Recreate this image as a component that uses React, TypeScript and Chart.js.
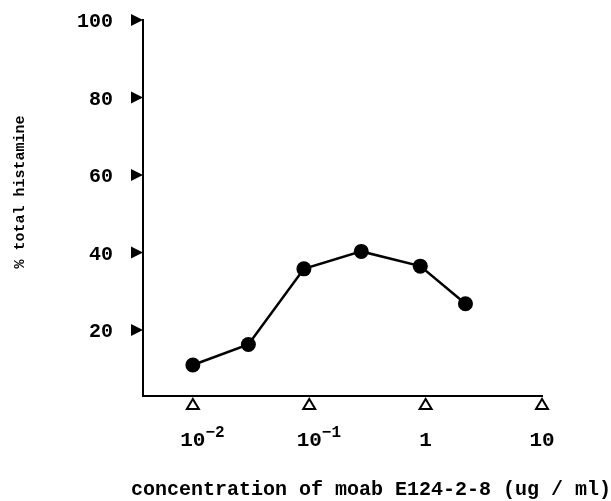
import React, { useEffect, useRef } from "react";
import { Chart, registerables } from "chart.js";

Chart.register(...registerables);

// Data
const concentrations = [0.01, 0.03, 0.09, 0.28, 0.9, 2.2];
const histamine = [11, 16.3, 35.8, 40.3, 36.5, 26.8];

const yTicks = [20, 40, 60, 80, 100];
const xTicks = [0.01, 0.1, 1, 10];
const xTickBase = ["10", "10", "1", "10"];
const xTickExp = ["\u22122", "\u22121", "", ""];

const xTitle = "concentration of moab E124-2-8 (ug / ml)";
const yTitle = "% total histamine";

const FONT = "'Liberation Mono', 'DejaVu Sans Mono', monospace";

const decorPlugin = {
  id: "decor",
  afterDraw(chart: any) {
    const ctx = chart.ctx;
    const xs = chart.scales.x;
    const ys = chart.scales.y;
    const area = chart.chartArea;
    ctx.save();
    ctx.fillStyle = "#000";
    ctx.strokeStyle = "#000";

    // y ticks: filled triangles pointing right + labels
    ctx.font = `bold 20px ${FONT}`;
    ctx.textAlign = "right";
    ctx.textBaseline = "middle";
    yTicks.forEach((v) => {
      const py = ys.getPixelForValue(v);
      const ax = area.left;
      ctx.beginPath();
      ctx.moveTo(ax, py);
      ctx.lineTo(ax - 12, py - 6);
      ctx.lineTo(ax - 12, py + 6);
      ctx.closePath();
      ctx.fill();
      ctx.fillText(String(v), ax - 30, py + 2);
    });

    // x ticks: hollow triangles pointing up + labels
    ctx.lineWidth = 2;
    xTicks.forEach((v, i) => {
      const px = xs.getPixelForValue(v);
      const ay = area.bottom + 3;
      ctx.beginPath();
      ctx.moveTo(px, ay);
      ctx.lineTo(px - 6, ay + 10);
      ctx.lineTo(px + 6, ay + 10);
      ctx.closePath();
      ctx.stroke();

      ctx.font = `bold 21px ${FONT}`;
      ctx.textAlign = "center";
      ctx.textBaseline = "alphabetic";
      const base = xTickBase[i];
      ctx.fillText(base, px, area.bottom + 50);
      if (xTickExp[i]) {
        const w = ctx.measureText(base).width;
        ctx.font = `bold 16px ${FONT}`;
        ctx.textAlign = "left";
        ctx.fillText(xTickExp[i], px + w / 2, area.bottom + 41);
      }
    });

    // x title
    ctx.font = `bold 20px ${FONT}`;
    ctx.textAlign = "center";
    ctx.textBaseline = "alphabetic";
    ctx.fillText(xTitle, 371, 495);

    // y title
    ctx.save();
    ctx.translate(20, 192);
    ctx.rotate(-Math.PI / 2);
    ctx.font = `bold 15px ${FONT}`;
    ctx.textAlign = "center";
    ctx.textBaseline = "middle";
    ctx.fillText(yTitle, 0, 0);
    ctx.restore();

    ctx.restore();
  },
};

export default function App() {
  const ref = useRef<HTMLCanvasElement>(null);
  useEffect(() => {
    if (!ref.current) return;
    const chart = new Chart(ref.current, {
      type: "line",
      data: {
        datasets: [
          {
            data: concentrations.map((c, i) => ({ x: c, y: histamine[i] })),
            borderColor: "#000",
            backgroundColor: "#000",
            borderWidth: 2.5,
            pointRadius: 7.5,
            pointBackgroundColor: "#000",
            pointBorderColor: "#000",
            pointBorderWidth: 0,
            tension: 0,
          },
        ],
      },
      options: {
        responsive: false,
        animation: false,
        layout: { autoPadding: false, padding: { left: 143, right: 69, top: 20, bottom: 105 } },
        plugins: { legend: { display: false }, tooltip: { enabled: false } },
        scales: {
          x: {
            type: "logarithmic",
            min: 0.00373,
            max: 10,
            ticks: { display: false },
            grid: { display: false, drawTicks: false },
            border: { display: true, color: "#000", width: 2 },
          },
          y: {
            type: "linear",
            min: 3,
            max: 100,
            ticks: { display: false },
            grid: { display: false, drawTicks: false },
            border: { display: true, color: "#000", width: 2 },
          },
        },
      },
      plugins: [decorPlugin],
    });
    return () => chart.destroy();
  }, []);
  return (
    <div style={{ position: "absolute", left: 0, top: 0, width: 611, height: 501, background: "#fff" }}>
      <canvas ref={ref} width={611} height={501} />
    </div>
  );
}
